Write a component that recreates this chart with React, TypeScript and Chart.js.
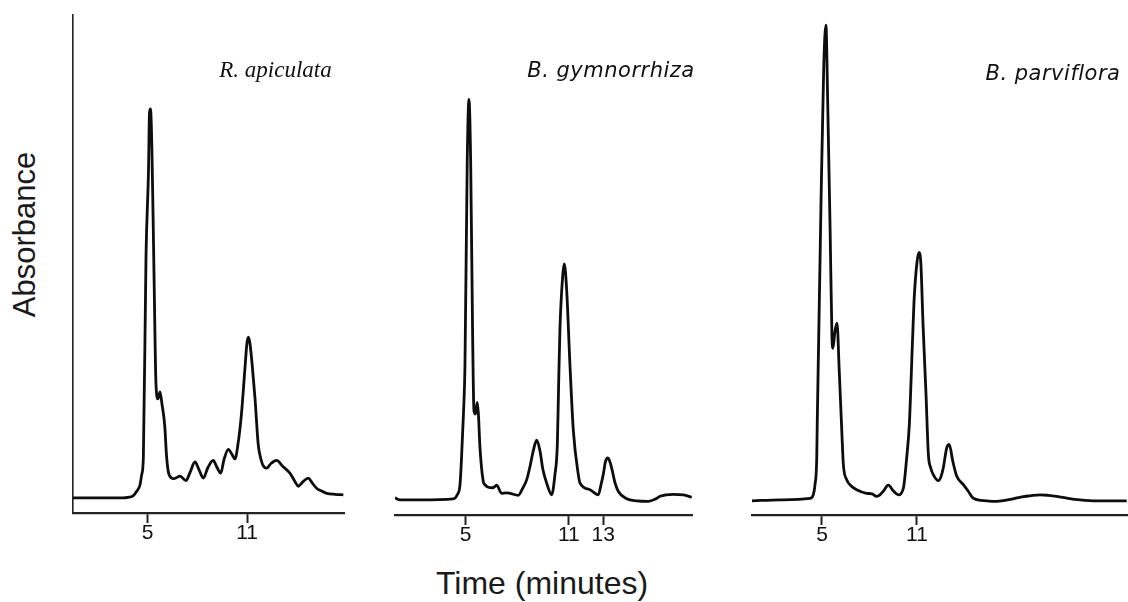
import React, { useEffect, useRef } from "react";
import { Chart, registerables } from "chart.js";

Chart.register(...registerables);

// ---- Data (time in minutes, absorbance in arbitrary units) ----
const timeRA = [0.51, 1.5, 2.5, 3.5, 3.83, 4.13, 4.35, 4.55, 4.65, 4.75, 4.91, 5.06, 5.12, 5.18, 5.27, 5.39, 5.51, 5.63, 5.75, 5.87, 6.04, 6.14, 6.25, 6.42, 6.6, 6.96, 7.32, 7.56, 7.86, 8.1, 8.36, 8.64, 8.96, 9.19, 9.41, 9.61, 9.87, 10.09, 10.27, 10.45, 10.66, 10.87, 10.99, 11.08, 11.17, 11.3, 11.48, 11.67, 11.84, 11.98, 12.18, 12.44, 12.78, 13.16, 13.58, 13.89, 14.08, 14.37, 14.69, 14.91, 15.19, 15.45, 15.8, 16.3, 16.8];
const absRA = [0, 0, 0, 0, 0.1, 0.4, 1.3, 2.6, 4.6, 8, 48, 64.8, 76.3, 77, 68.2, 44.6, 22.6, 19.6, 21, 18.6, 14.2, 8.6, 5.2, 4, 3.8, 4.3, 3.4, 5, 7.1, 5.6, 3.9, 6, 7.4, 6, 4.9, 7.6, 9.6, 8.6, 7.7, 10.6, 16.6, 25.6, 30.6, 31.8, 30.6, 26.6, 19.6, 10.6, 7.6, 6.3, 5.9, 6.8, 7.4, 6.2, 4.9, 3.2, 2.3, 3.2, 3.9, 3, 1.9, 1.4, 0.9, 0.7, 0.6];

const timeBG = [0.89, 1.18, 2.34, 4.28, 4.51, 4.67, 4.76, 4.87, 4.96, 5.09, 5.19, 5.29, 5.4, 5.48, 5.57, 5.67, 5.74, 5.83, 6.02, 6.12, 6.31, 6.59, 6.8, 7.09, 7.34, 7.57, 8.06, 8.3, 8.55, 8.74, 8.93, 9.13, 9.32, 9.49, 9.71, 10.0, 10.19, 10.33, 10.4, 10.48, 10.64, 10.73, 10.87, 11.06, 11.26, 11.55, 11.65, 12.23, 12.71, 12.87, 13.0, 13.13, 13.26, 13.36, 13.49, 13.68, 13.87, 14.36, 14.94, 15.62, 16.01, 16.3, 16.65, 17.07, 17.66, 18.14];
const absBG = [0.4, 0, 0, 0.2, 1, 3, 8.4, 17, 27, 67, 79.3, 67, 33.7, 17.7, 17, 19.3, 17, 10.4, 3.7, 3, 2.5, 2.4, 2.9, 1.3, 1.4, 1.3, 0.9, 2.2, 4, 6.6, 9.7, 11.8, 9.7, 6, 3.3, 1, 5, 11, 22, 33.7, 44.3, 46.7, 41.7, 27, 13.7, 5, 3.3, 2, 1, 3, 5, 7.6, 8.3, 7.8, 6.3, 3.4, 1.7, 0.2, -0.2, -0.3, 0.1, 0.7, 1, 1.1, 1, 0.5];

const timeBP = [0.58, 2.35, 4.24, 4.45, 4.56, 4.67, 4.7, 4.94, 5.11, 5.25, 5.36, 5.52, 5.63, 5.69, 5.82, 5.95, 6.09, 6.26, 6.35, 6.56, 6.83, 7.19, 7.82, 8.16, 8.46, 8.66, 8.87, 9.19, 9.5, 9.82, 10.14, 10.35, 10.52, 10.62, 10.81, 11.0, 11.13, 11.25, 11.38, 11.57, 11.72, 11.86, 12.03, 12.35, 12.52, 12.66, 12.88, 13.04, 13.26, 13.51, 13.93, 14.24, 14.56, 15.4, 16.04, 16.56, 17.08, 17.63, 18.14, 18.77, 19.28, 19.83, 20.54, 21.3, 22.35, 24.25];
const absBP = [-0.2, 0, 0.3, 1, 3, 8.4, 15, 59, 85.6, 94, 79, 52.4, 32.4, 30, 33.4, 35, 25.6, 13, 7, 4, 2.8, 2, 1.3, 1.2, 0.7, 1, 1.7, 2.9, 1.8, 1, 2.3, 8.3, 15, 23, 39, 47, 49, 46.6, 35, 21, 9, 6.4, 5, 3.8, 4.6, 6.3, 10.3, 11, 7.7, 4.7, 3, 1.7, 0.3, -0.2, -0.3, -0.1, 0.2, 0.6, 0.8, 1, 0.9, 0.7, 0.3, 0, -0.2, -0.2];

const ticksRA = [5, 11];
const ticksBG = [5, 11, 13];
const ticksBP = [5, 11];

const speciesNames = ["R. apiculata", "B. gymnorrhiza", "B. parviflora"];
const yAxisTitle = "Absorbance";
const xAxisTitle = "Time (minutes)";

const PAD = 10;
const AXIS_H = 45;

type PanelProps = {
  times: number[];
  values: number[];
  ticks: number[];
  xMin: number;
  xMax: number;
  yMin: number;
  yMax: number;
  showY: boolean;
  left: number;
  top: number;
  width: number;
  height: number;
};

function Panel(p: PanelProps) {
  const ref = useRef<HTMLCanvasElement>(null);
  useEffect(() => {
    const chart = new Chart(ref.current as HTMLCanvasElement, {
      type: "line",
      data: {
        datasets: [
          {
            data: p.times.map((t, i) => ({ x: t, y: p.values[i] })),
            borderColor: "#0d0d0d",
            borderWidth: 2.8,
            pointRadius: 0,
            fill: false,
            cubicInterpolationMode: "monotone",
          } as any,
        ],
      },
      options: {
        animation: false,
        responsive: true,
        maintainAspectRatio: false,
        events: [],
        layout: {
          padding: { left: PAD, right: PAD, top: PAD, bottom: 0 },
          autoPadding: false,
        } as any,
        plugins: { legend: { display: false }, tooltip: { enabled: false } },
        scales: {
          x: {
            type: "linear",
            position: "bottom",
            min: p.xMin,
            max: p.xMax,
            afterBuildTicks: (s: any) => {
              s.ticks = p.ticks.map((v) => ({ value: v }));
            },
            afterFit: (s: any) => {
              s.height = AXIS_H;
            },
            ticks: {
              autoSkip: false,
              maxRotation: 0,
              padding: -2,
              color: "#111",
              font: { family: '"Liberation Sans", Arial, sans-serif', size: 21 },
              callback: (v: any) => String(v),
            },
            grid: {
              display: true,
              drawOnChartArea: false,
              drawTicks: true,
              tickLength: 10,
              tickWidth: 2,
              tickColor: "#222",
            },
            border: { display: true, color: "#222", width: 2.2 },
          },
          y: {
            type: "linear",
            min: p.yMin,
            max: p.yMax,
            display: p.showY,
            afterFit: (s: any) => {
              s.width = 0;
            },
            ticks: { display: false },
            grid: { display: false },
            border: { display: true, color: "#222", width: 1.6 },
          },
        },
      } as any,
    });
    return () => chart.destroy();
  }, []);
  return (
    <div style={{ position: "absolute", left: p.left, top: p.top, width: p.width, height: p.height }}>
      <canvas ref={ref} />
    </div>
  );
}

const textBase: React.CSSProperties = {
  position: "absolute",
  whiteSpace: "nowrap",
  color: "#111",
  textAlign: "center",
};

export default function App() {
  return (
    <div
      style={{
        position: "absolute",
        left: 0,
        top: 0,
        width: 1128,
        height: 602,
        overflow: "hidden",
        background: "#fff",
      }}
    >
      <Panel times={timeRA} values={absRA} ticks={ticksRA} xMin={0.51} xMax={16.84} yMin={-3} yMax={95.6} showY={true} left={63} top={5} width={291} height={553} />
      <Panel times={timeBG} values={absBG} ticks={ticksBG} xMin={0.89} xMax={18.16} yMin={-3} yMax={96} showY={false} left={385} top={5} width={317} height={555} />
      <Panel times={timeBP} values={absBP} ticks={ticksBP} xMin={0.58} xMax={24.33} yMin={-3} yMax={96} showY={false} left={742} top={5} width={396} height={555} />

      <div
        style={{
          ...textBase,
          left: 24 - 150,
          top: 234 - 15.5,
          width: 300,
          height: 31,
          lineHeight: "31px",
          fontSize: 31,
          fontFamily: '"Liberation Sans", Arial, sans-serif',
          color: "#1a1a1a",
          transform: "rotate(-90deg)",
        }}
      >
        {yAxisTitle}
      </div>
      <div
        style={{
          ...textBase,
          left: 542 - 200,
          top: 567,
          width: 400,
          lineHeight: "32px",
          fontSize: 32,
          fontFamily: '"Liberation Sans", Arial, sans-serif',
          color: "#1a1a1a",
        }}
      >
        {xAxisTitle}
      </div>
      <div
        style={{
          ...textBase,
          left: 275.5 - 100,
          top: 57.7,
          width: 200,
          lineHeight: "23px",
          fontSize: 23,
          fontStyle: "italic",
          fontFamily: '"Liberation Serif", "Times New Roman", serif',
        }}
      >
        {speciesNames[0]}
      </div>
      <div
        style={{
          ...textBase,
          left: 611 - 120,
          top: 60.2,
          width: 240,
          lineHeight: "21px",
          fontSize: 21,
          fontStyle: "italic",
          letterSpacing: "0.5px",
          fontFamily: '"DejaVu Sans", sans-serif',
        }}
      >
        {speciesNames[1]}
      </div>
      <div
        style={{
          ...textBase,
          left: 1053 - 120,
          top: 63.2,
          width: 240,
          lineHeight: "21px",
          fontSize: 21,
          fontStyle: "italic",
          letterSpacing: "0.5px",
          fontFamily: '"DejaVu Sans", sans-serif',
        }}
      >
        {speciesNames[2]}
      </div>
    </div>
  );
}
